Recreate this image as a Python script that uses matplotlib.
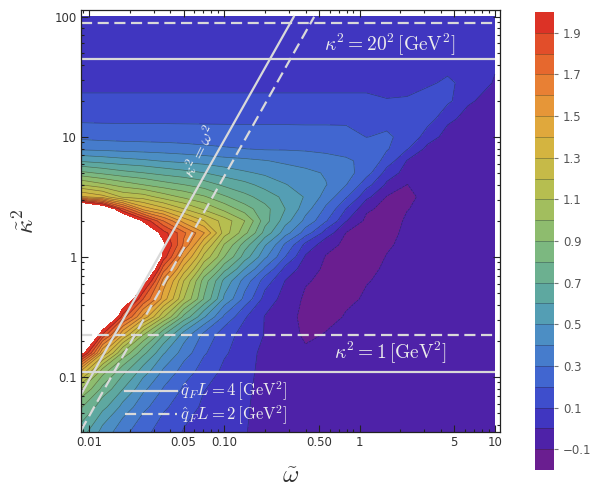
import numpy as np
import matplotlib.pyplot as plt
from matplotlib.ticker import FixedLocator, FixedFormatter, NullFormatter

plt.rcParams['mathtext.fontset'] = 'cm'
plt.rcParams['font.family'] = ['DejaVu Sans']

# grid: log10(omega~) columns, log10(kappa~^2) rows (top -> bottom)
log_omega = [-2.06, -1.9, -1.75, -1.6, -1.45, -1.3, -1.15, -1.0, -0.85, -0.7,
             -0.55, -0.4, -0.25, -0.1, 0.05, 0.2, 0.35, 0.5, 0.65, 0.8, 1.0]
log_kappa2 = [2.0, 1.8, 1.6, 1.45, 1.3, 1.15, 1.0, 0.9, 0.8, 0.7, 0.6, 0.5, 0.4,
              0.3, 0.2, 0.1, 0.0, -0.1, -0.2, -0.35, -0.5, -0.65, -0.8, -0.95,
              -1.1, -1.25, -1.46]

z_200 = [0.045, 0.045, 0.045, 0.045, 0.045, 0.045, 0.045, 0.045, 0.045, 0.045, 0.045,
         0.045, 0.045, 0.045, 0.045, 0.045, 0.045, 0.045, 0.040, 0.035, 0.030]
z_180 = [0.060, 0.060, 0.060, 0.060, 0.060, 0.060, 0.060, 0.060, 0.060, 0.060, 0.060,
         0.060, 0.060, 0.060, 0.060, 0.060, 0.060, 0.060, 0.055, 0.045, 0.030]
z_160 = [0.075, 0.075, 0.075, 0.075, 0.075, 0.075, 0.075, 0.075, 0.075, 0.075, 0.075,
         0.075, 0.075, 0.075, 0.075, 0.075, 0.075, 0.075, 0.080, 0.060, 0.015]
z_145 = [0.085, 0.085, 0.085, 0.085, 0.085, 0.085, 0.085, 0.085, 0.085, 0.085, 0.085,
         0.085, 0.085, 0.085, 0.085, 0.085, 0.085, 0.092, 0.110, 0.080, -0.012]
z_130 = [0.110, 0.110, 0.110, 0.110, 0.110, 0.110, 0.110, 0.110, 0.110, 0.110, 0.110,
         0.110, 0.110, 0.110, 0.110, 0.102, 0.104, 0.120, 0.120, 0.020, -0.070]
z_115 = [0.176, 0.176, 0.176, 0.176, 0.176, 0.176, 0.176, 0.176, 0.176, 0.176, 0.176,
         0.176, 0.176, 0.176, 0.156, 0.163, 0.176, 0.140, 0.030, -0.045, -0.060]
z_100 = [0.275, 0.264, 0.260, 0.258, 0.256, 0.253, 0.250, 0.247, 0.245, 0.245, 0.243,
         0.240, 0.240, 0.236, 0.198, 0.215, 0.164, 0.058, -0.050, -0.060, -0.060]
z_090 = [0.380, 0.373, 0.362, 0.354, 0.347, 0.336, 0.322, 0.310, 0.301, 0.290, 0.290,
         0.286, 0.280, 0.274, 0.250, 0.210, 0.108, -0.030, -0.050, -0.060, -0.060]
z_080 = [0.587, 0.560, 0.536, 0.517, 0.493, 0.474, 0.456, 0.436, 0.422, 0.405, 0.380,
         0.356, 0.330, 0.310, 0.280, 0.157, -0.005, -0.050, -0.060, -0.060, -0.060]
z_070 = [0.826, 0.778, 0.732, 0.702, 0.664, 0.633, 0.602, 0.554, 0.513, 0.481, 0.450,
         0.425, 0.390, 0.336, 0.240, 0.058, -0.045, -0.060, -0.060, -0.060, -0.060]
z_060 = [1.102, 1.026, 0.957, 0.902, 0.845, 0.803, 0.750, 0.680, 0.630, 0.563, 0.505,
         0.455, 0.405, 0.302, 0.136, -0.020, -0.102, -0.060, -0.060, -0.060, -0.060]
z_050 = [1.420, 1.340, 1.180, 1.150, 1.055, 0.978, 0.912, 0.814, 0.728, 0.655, 0.570,
         0.490, 0.357, 0.210, 0.026, -0.105, -0.122, -0.070, -0.065, -0.060, -0.060]
z_040 = [2.600, 2.260, 1.800, 1.457, 1.330, 1.202, 1.080, 0.964, 0.844, 0.730, 0.600,
         0.440, 0.280, 0.098, -0.082, -0.135, -0.103, -0.075, -0.065, -0.060, -0.060]
z_030 = [2.900, 2.600, 2.300, 1.990, 1.700, 1.455, 1.302, 1.150, 1.002, 0.740, 0.540,
         0.370, 0.210, 0.005, -0.125, -0.131, -0.090, -0.070, -0.060, -0.060, -0.060]
z_020 = [3.000, 2.800, 2.500, 2.200, 1.940, 1.720, 1.505, 1.150, 0.930, 0.660, 0.440,
         0.250, 0.056, -0.103, -0.134, -0.122, -0.083, -0.068, -0.060, -0.060, -0.060]
z_010 = [3.100, 2.900, 2.700, 2.350, 2.030, 1.680, 1.310, 0.990, 0.750, 0.510, 0.280,
         0.070, -0.065, -0.124, -0.134, -0.110, -0.078, -0.065, -0.060, -0.060, -0.060]
z_000 = [3.200, 3.100, 2.900, 2.600, 1.955, 1.520, 1.170, 0.900, 0.650, 0.420, 0.200,
         -0.013, -0.106, -0.133, -0.129, -0.097, -0.075, -0.065, -0.060, -0.060, -0.060]
z_m010 = [3.200, 3.100, 2.800, 2.350, 1.750, 1.360, 1.010, 0.735, 0.500, 0.285, 0.070,
          -0.057, -0.119, -0.135, -0.119, -0.087, -0.072, -0.065, -0.060, -0.060, -0.060]
z_m020 = [3.200, 3.000, 2.600, 2.100, 1.560, 1.200, 0.850, 0.570, 0.355, 0.150, -0.003,
          -0.090, -0.129, -0.133, -0.105, -0.080, -0.068, -0.062, -0.060, -0.060, -0.060]
z_m035 = [3.200, 3.000, 2.200, 1.800, 1.450, 1.100, 0.790, 0.480, 0.270, 0.060, -0.044,
          -0.117, -0.135, -0.119, -0.088, -0.075, -0.066, -0.062, -0.060, -0.060, -0.060]
z_m050 = [3.100, 2.400, 1.850, 1.470, 1.110, 0.770, 0.510, 0.280, 0.110, -0.005, -0.067,
          -0.127, -0.130, -0.092, -0.077, -0.068, -0.062, -0.060, -0.060, -0.060, -0.060]
z_m065 = [2.500, 1.880, 1.400, 1.002, 0.700, 0.450, 0.270, 0.140, 0.060, -0.005, -0.057,
          -0.118, -0.094, -0.078, -0.068, -0.062, -0.060, -0.060, -0.060, -0.060, -0.060]
z_m080 = [2.100, 1.400, 0.980, 0.730, 0.510, 0.350, 0.212, 0.113, 0.041, -0.030, -0.065,
          -0.085, -0.080, -0.070, -0.063, -0.060, -0.060, -0.060, -0.060, -0.060, -0.060]
z_m095 = [1.400, 0.950, 0.735, 0.553, 0.385, 0.254, 0.153, 0.078, 0.022, -0.025, -0.050,
          -0.060, -0.063, -0.060, -0.060, -0.060, -0.060, -0.060, -0.060, -0.060, -0.060]
z_m110 = [1.002, 0.769, 0.602, 0.424, 0.292, 0.185, 0.104, 0.059, 0.015, -0.030, -0.050,
          -0.055, -0.058, -0.060, -0.060, -0.060, -0.060, -0.060, -0.060, -0.060, -0.060]
z_m125 = [0.810, 0.633, 0.466, 0.329, 0.218, 0.140, 0.083, 0.046, 0.009, -0.030, -0.045,
          -0.050, -0.055, -0.058, -0.060, -0.060, -0.060, -0.060, -0.060, -0.060, -0.060]
z_m146 = [0.650, 0.460, 0.331, 0.227, 0.152, 0.094, 0.064, 0.034, 0.004, -0.030, -0.040,
          -0.045, -0.050, -0.053, -0.056, -0.058, -0.060, -0.060, -0.060, -0.060, -0.060]

levels = [-0.2, -0.1, 0.0, 0.1, 0.2, 0.3, 0.4, 0.5, 0.6, 0.7, 0.8, 0.9, 1.0,
          1.1, 1.2, 1.3, 1.4, 1.5, 1.6, 1.7, 1.8, 1.9, 2.0]
band_colors = ['#6a1e90', '#4e22a8', '#4036c0', '#3e4ecc', '#4166d0', '#467ccc',
               '#4c8ec4', '#549eb4', '#5ea8a0', '#6cb090', '#7cb880', '#8ebc6e',
               '#a2be5e', '#b6be50', '#c6ba48', '#d4b440', '#e0a83c', '#e69638',
               '#e88034', '#e6682e', '#e24e2a', '#dc3226']
cbar_ticks = [-0.1, 0.1, 0.3, 0.5, 0.7, 0.9, 1.1, 1.3, 1.5, 1.7, 1.9]

# reference lines for qF L = 4 (solid) and 2 (dashed) GeV^2
qL_labels = [r'$\hat{q}_F L = 4\,[\mathrm{GeV}^2]$', r'$\hat{q}_F L = 2\,[\mathrm{GeV}^2]$']
kappa_20 = [44.4, 88.9]      # kappa^2 = 20^2 GeV^2
kappa_1 = [0.111, 0.222]     # kappa^2 = 1 GeV^2
diag_coef = [940.0, 470.0]   # kappa^2 = omega^2
styles = ['-', (0, (5, 2.5))]

X = 10 ** np.array(log_omega)
Y = 10 ** np.array(log_kappa2)
Z = np.array([z_200, z_180, z_160, z_145, z_130, z_115, z_100, z_090, z_080, z_070,
              z_060, z_050, z_040, z_030, z_020, z_010, z_000, z_m010, z_m020,
              z_m035, z_m050, z_m065, z_m080, z_m095, z_m110, z_m125, z_m146])

fig = plt.figure(figsize=(5.96, 4.87), dpi=100)
ax = fig.add_axes([81 / 596, 55 / 487, 419 / 596, 422 / 487])

cs = ax.contourf(X, Y, Z, levels=levels, colors=band_colors)
cl = ax.contour(X, Y, Z, levels=levels[1:-1], colors='#202020', linewidths=0.45, alpha=0.5)

ax.set_xscale('log')
ax.set_yscale('log')
ax.set_xlim(0.00873, 10.9)
ax.set_ylim(0.0348, 114)

line_col = '#d9d9d9'
handles = []
for i in range(2):
    ax.hlines(kappa_20[i], X[0], X[-1], colors=line_col, linestyles=styles[i], lw=1.6)
    ax.hlines(kappa_1[i], X[0], X[-1], colors=line_col, linestyles=styles[i], lw=1.6)
    x_top = np.sqrt(Y[0] / diag_coef[i])
    xd = np.array([X[0], x_top])
    h, = ax.plot(xd, diag_coef[i] * xd ** 2, color=line_col, ls=styles[i], lw=1.6)
    handles.append(h)

txt_col = '#ececec'
ax.text(1.68, 58.5, r'$\kappa^2 = 20^2\,[\mathrm{GeV}^2]$', color=txt_col,
        fontsize=14, ha='center', va='center')
ax.text(1.68, 0.158, r'$\kappa^2 = 1\,[\mathrm{GeV}^2]$', color=txt_col,
        fontsize=14, ha='center', va='center')
ax.text(0.067, 7.5, r'$\kappa^2 = \omega^2$', color=txt_col, fontsize=12,
        rotation=64, ha='center', va='center')

ax.legend(handles, qL_labels, loc='lower left', bbox_to_anchor=(0.105, 0.012),
          frameon=False, fontsize=12, labelcolor=txt_col, handlelength=3.1,
          handletextpad=0.2, borderpad=0, borderaxespad=0, labelspacing=0.0)

# ticks
x_major = [0.01, 0.05, 0.1, 0.5, 1, 5, 10]
x_major_lbl = ['0.01', '0.05', '0.10', '0.50', '1', '5', '10']
y_major = [0.1, 1, 10, 100]
y_major_lbl = ['0.1', '1', '10', '100']
minor_x = [k * 10.0 ** e for e in range(-3, 2) for k in range(1, 10)
           if 0.0087 < k * 10.0 ** e < 10.9 and not any(np.isclose(k * 10.0 ** e, x_major))]
minor_y = [k * 10.0 ** e for e in range(-2, 3) for k in range(1, 10)
           if 0.0348 < k * 10.0 ** e < 114 and not any(np.isclose(k * 10.0 ** e, y_major))]
ax.xaxis.set_major_locator(FixedLocator(x_major))
ax.xaxis.set_major_formatter(FixedFormatter(x_major_lbl))
ax.xaxis.set_minor_locator(FixedLocator(minor_x))
ax.xaxis.set_minor_formatter(NullFormatter())
ax.yaxis.set_major_locator(FixedLocator(y_major))
ax.yaxis.set_major_formatter(FixedFormatter(y_major_lbl))
ax.yaxis.set_minor_locator(FixedLocator(minor_y))
ax.yaxis.set_minor_formatter(NullFormatter())
ax.tick_params(which='both', direction='in', top=True, right=True, color='#222222',
               width=0.8, labelsize=8.5, labelcolor='#333333', pad=3)
ax.tick_params(which='major', length=5)
ax.tick_params(which='minor', length=2.5)
for s in ax.spines.values():
    s.set_linewidth(0.9)
    s.set_color('#222222')

ax.set_xlabel(r'$\tilde{\omega}$', fontsize=18, color='#333333')
ax.xaxis.set_label_coords(0.5, -0.075)
ax.set_ylabel(r'$\tilde{\kappa}^2$', fontsize=18, color='#333333')
ax.yaxis.set_label_coords(-0.1, 0.5)

cax = fig.add_axes([535 / 596, 17 / 487, 19 / 596, 458 / 487])
cb = fig.colorbar(cs, cax=cax, ticks=cbar_ticks)
cb.add_lines(cl)
cb.outline.set_visible(False)
cb.ax.set_yticklabels([('\u2212%.1f' % -t) if t < 0 else '%.1f' % t for t in cbar_ticks])
cb.ax.tick_params(labelsize=8.5, labelcolor='#555555', color='#777777', length=3, width=0.8)

fig.savefig('out.png', dpi=100)
